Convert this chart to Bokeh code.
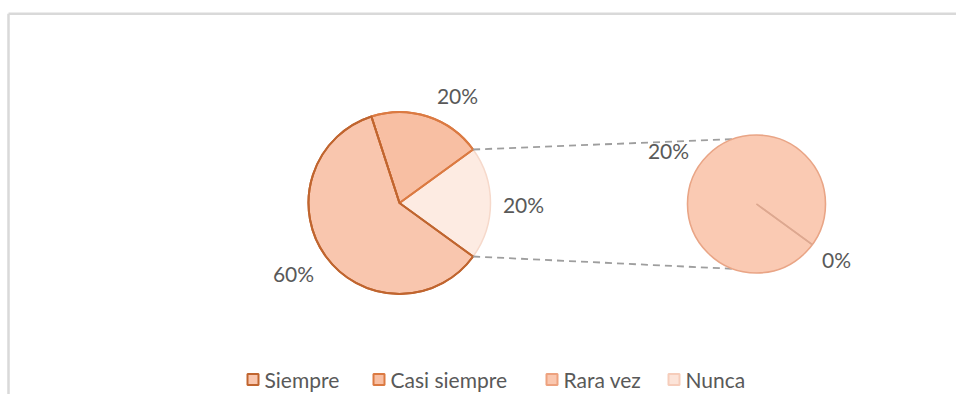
import math
from bokeh.plotting import figure
from bokeh.models import Range1d
from bokeh.core.properties import value
from bokeh.embed import file_html
from bokeh.resources import INLINE

# ---------------- data ----------------
categories = ["Siempre", "Casi siempre", "Rara vez", "Nunca"]
percent = [60, 20, 20, 0]
main_count = 2            # first two categories in main pie, rest go to "other"

# ---------------- styles ----------------
fills = ["#F9C6AE", "#F8BFA3", "#FAC7AF", "#FCE4D9"]
lines = ["#C0652F", "#DB7A42", "#EDA27F", "#F6CDBB"]
other_fill = "#FDEBE2"
other_line = "#F6D9CB"
sec_fill = "#FACAB3"
sec_line = "#E9A586"
text_color = "#595959"
FONT = "Lato"

# layout (image px; data y = 410 - image y)
W, H = 956, 394
def Y(img_y):
    return 410 - img_y

main_c = (399, Y(202.5)); main_r = 91
sec_c = (756, Y(203.5)); sec_r = 69
conn_angle = 110   # where connector meets the secondary pie

p = figure(width=W, height=H, output_backend="svg", toolbar_location=None,
           x_range=Range1d(0, W), y_range=Range1d(410 - H, 410),
           x_axis_type=None, y_axis_type=None, min_border=0,
           background_fill_color="white", border_fill_color="white",
           outline_line_color=None)
p.grid.visible = False

# chart border (top + left)
p.line([8, W + 10], [Y(13.3), Y(13.3)], line_color="#D9D9D9", line_width=2.5)
p.line([8, 8], [Y(13.3), 0], line_color="#D9D9D9", line_width=2.5)

# ---------------- main pie ----------------
main_vals = percent[:main_count]
other_val = sum(percent[main_count:])
total = sum(percent)
other_span = other_val / total * 2 * math.pi
start = -other_span / 2
slices = [("other", other_val)] + [(categories[i], percent[i]) for i in reversed(range(main_count))]
main_wedges = []
a = start
for name, v in slices:
    span = v / total * 2 * math.pi
    main_wedges.append((name, v, a, a + span))
    a += span

for name, v, a0, a1 in main_wedges:
    if name == "other":
        fc, lc, lw = other_fill, other_line, 1.5
    else:
        idx = categories.index(name)
        fc, lc, lw = fills[idx], lines[idx], 2
    p.wedge(x=[main_c[0]], y=[main_c[1]], radius=main_r, start_angle=a0, end_angle=a1,
            fill_color=fc, line_color=lc, line_width=lw, direction="anticlock")

for name, v, a0, a1 in main_wedges:
    if name != "other":
        idx = categories.index(name)
        p.wedge(x=[main_c[0]], y=[main_c[1]], radius=main_r, start_angle=a0, end_angle=a1,
                fill_color=None, line_color=lines[idx], line_width=2, direction="anticlock")

# ---------------- connectors ----------------
for sgn in (1, -1):
    x0 = main_c[0] + main_r * math.cos(sgn * other_span / 2)
    y0 = main_c[1] + main_r * math.sin(sgn * other_span / 2)
    ang = math.radians(sgn * conn_angle)
    x1 = sec_c[0] + sec_r * math.cos(ang)
    y1 = sec_c[1] + sec_r * math.sin(ang)
    p.segment(x0=[x0], y0=[y0], x1=[x1], y1=[y1], line_color="#9E9E9E",
              line_width=1.8, line_dash="7 5")

# ---------------- secondary pie ----------------
sec_vals = percent[main_count:]
sec_total = sum(sec_vals)
a = start
sec_bounds = []
for i, v in enumerate(sec_vals):
    span = v / sec_total * 2 * math.pi
    if span >= 2 * math.pi - 1e-6:
        p.circle(x=[sec_c[0]], y=[sec_c[1]], radius=sec_r, fill_color=sec_fill,
                 line_color=sec_line, line_width=1.6)
    elif span > 0:
        p.wedge(x=[sec_c[0]], y=[sec_c[1]], radius=sec_r, start_angle=a, end_angle=a + span,
                fill_color=sec_fill, line_color=sec_line, line_width=1.6, direction="anticlock")
    sec_bounds.append(a)
    a += span
for b in set(round(x, 6) for x in sec_bounds):
    p.segment(x0=[sec_c[0]], y0=[sec_c[1]],
              x1=[sec_c[0] + sec_r * math.cos(b)], y1=[sec_c[1] + sec_r * math.sin(b)],
              line_color="#DDA890", line_width=1.5)

# ---------------- data labels ----------------
label_off = {"Siempre": (-106, -70.5), "Casi siempre": (58, 107.5), "other": (124, -1.5),
             "Rara vez": (-88, 53.5), "Nunca": (80, -55.5)}
lx, ly, lt = [], [], []
for name, v, a0, a1 in main_wedges:
    dx, dy = label_off[name]
    lx.append(main_c[0] + dx); ly.append(main_c[1] + dy); lt.append(f"{v}%")
for i, v in enumerate(sec_vals):
    name = categories[main_count + i]
    dx, dy = label_off[name]
    lx.append(sec_c[0] + dx); ly.append(sec_c[1] + dy); lt.append(f"{v}%")
p.text(x=lx, y=ly, text=lt, text_align="center", text_baseline="middle",
       text_font=value(FONT), text_font_size="21px", text_color=text_color)

# ---------------- legend ----------------
leg_sq_x = [252.5, 378.5, 551.5, 673.5]
leg_y = Y(379)
p.rect(x=leg_sq_x, y=[leg_y] * 4, width=11, height=11, fill_color=fills,
       line_color=lines, line_width=2)
p.text(x=[xx + 11.5 for xx in leg_sq_x], y=[leg_y] * 4, text=categories,
       text_align="left", text_baseline="middle", text_font=value(FONT),
       text_font_size="21px", text_color=text_color)

open("out.html", "w").write(file_html(p, INLINE))
